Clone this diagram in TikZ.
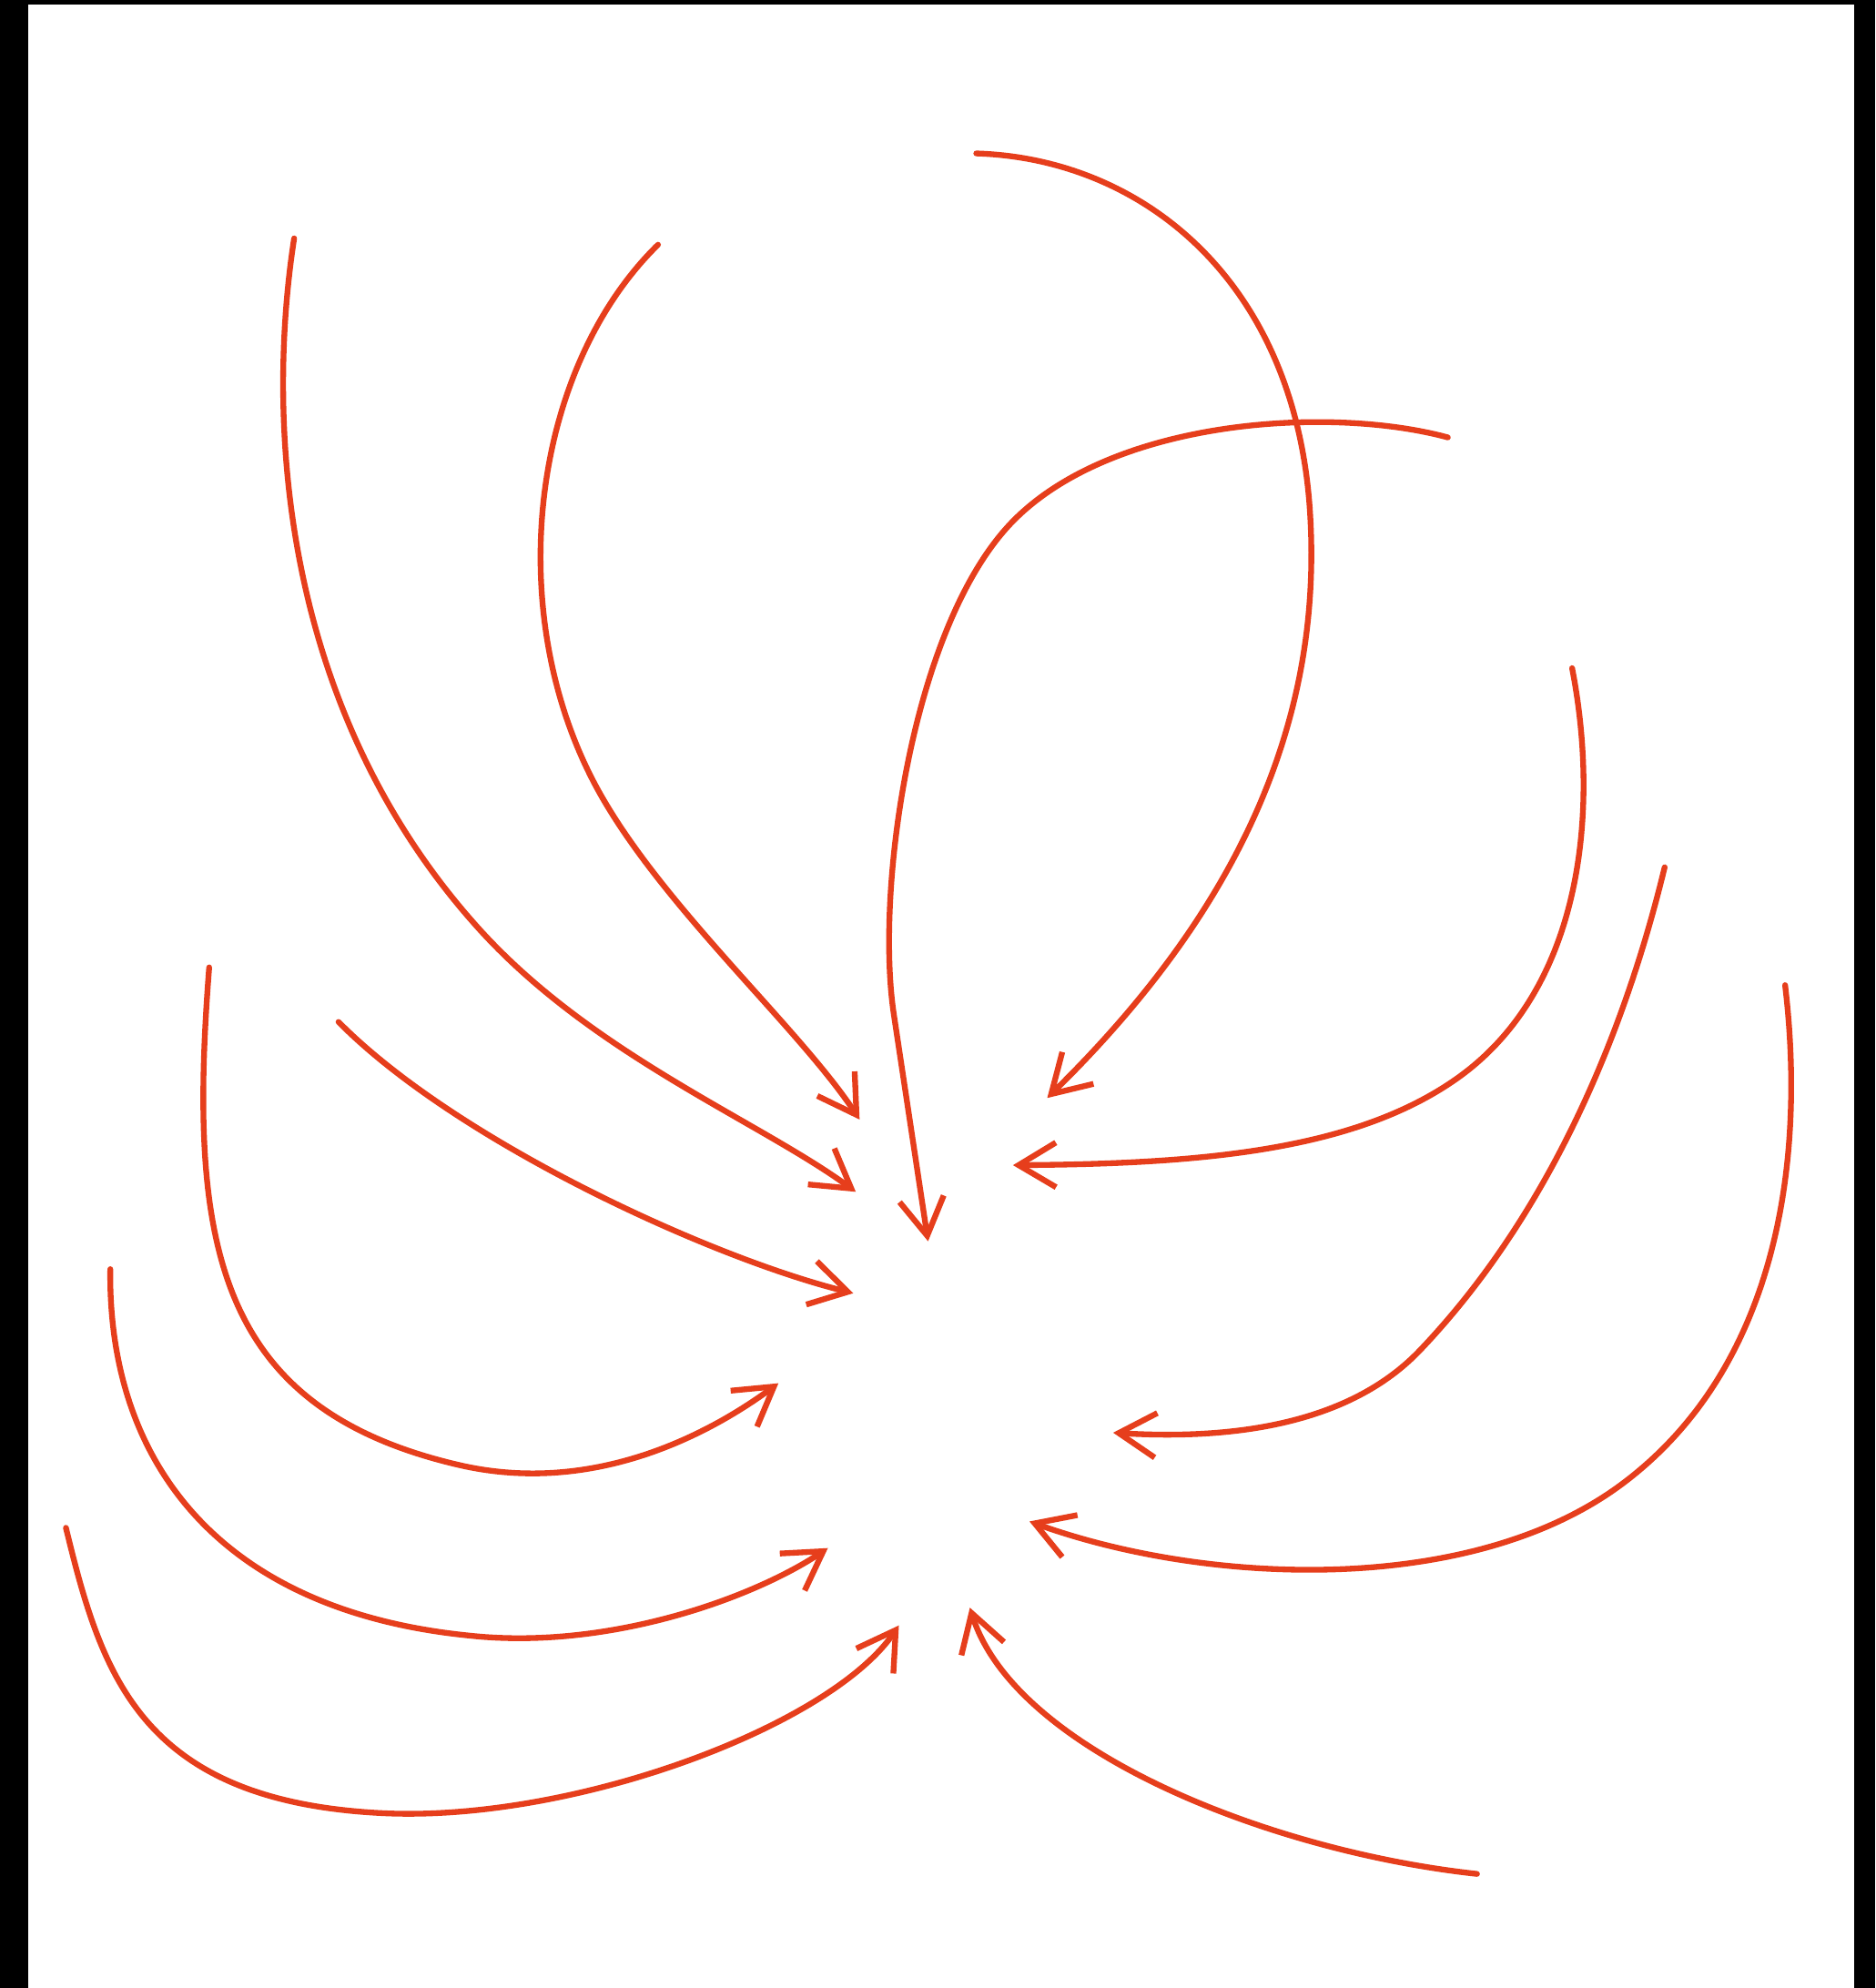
\documentclass[tikz,border=0pt]{standalone}
\usepackage{tikz}
\usetikzlibrary{arrows.meta}
\definecolor{inkred}{RGB}{230,62,28}

\begin{document}
\begin{tikzpicture}[x=0.13928mm,y=-0.13928mm,
    flow/.style={inkred,line width=1.8pt,line cap=round,line join=round,-{Straight Barb[length=4.1mm,width=4.9mm]}}]
      \useasboundingbox (0,0) rectangle (1479,1568);
      \fill[white] (0,0) rectangle (1479,1568);
      % black frame strips
      \fill[black] (0,0) rectangle (22,1568);\fill[black] (0,0) rectangle (1479,3.6);\fill[black] (1462.5,0) rectangle (1479,1568);
      % arrows from the top left
      \draw[flow] (232,188) .. controls (210,330) and (220,560) .. (380,735) .. controls (470,833) and (600,885) .. (675,940);
      \draw[flow] (519,193) .. controls (420,290) and (395,480) .. (470,620) .. controls (520,713) and (630,810) .. (678,883);
      % arrows from the top
      \draw[flow] (770,121) .. controls (900,125) and (1020,220) .. (1033,400) .. controls (1045,570) and (975,720) .. (826,866);
      \draw[flow] (1142,345) .. controls (1050,320) and (880,330) .. (800,410) .. controls (720,490) and (690,700) .. (705,800) -- (732,979);
      % arrows from the right
      \draw[flow] (1240,527) .. controls (1262,640) and (1248,780) .. (1150,850) .. controls (1070,907) and (950,918) .. (799,919);
      \draw[flow] (1313,684) .. controls (1280,820) and (1220,960) .. (1120,1065) .. controls (1060,1128) and (960,1135) .. (878,1130);
      \draw[flow] (1408,777) .. controls (1425,920) and (1400,1080) .. (1280,1170) .. controls (1160,1260) and (950,1250) .. (812,1200);
      \draw[flow] (1165,1478) .. controls (1000,1460) and (800,1380) .. (765,1268);
      % arrows from the left
      \draw[flow] (52,1205) .. controls (80,1320) and (110,1420) .. (300,1430) .. controls (450,1438) and (655,1362) .. (709,1282);
      \draw[flow] (87,1001) .. controls (85,1150) and (170,1270) .. (370,1290) .. controls (480,1302) and (595,1260) .. (653,1221);
      \draw[flow] (165,763) .. controls (148,980) and (170,1110) .. (360,1155) .. controls (460,1179) and (550,1138) .. (614,1091);
      \draw[flow] (267,806) .. controls (360,900) and (560,992) .. (673,1020);
    \end{tikzpicture}
\end{document}
